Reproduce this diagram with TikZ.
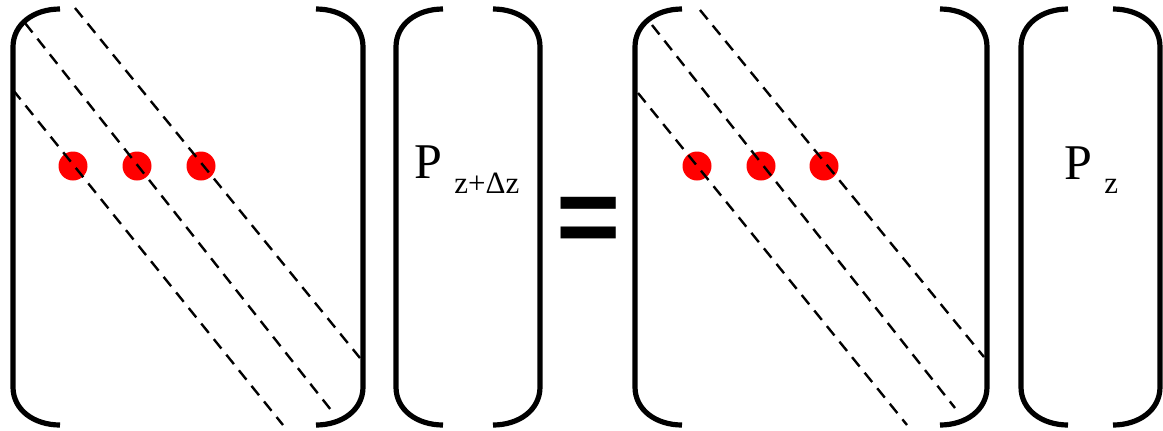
\documentclass[tikz,border=0pt]{standalone}
\usepackage{fontspec}
\setmainfont{Liberation Serif}
\newfontfamily\eqfont{Liberation Sans}
\usetikzlibrary{positioning}
\tikzset{
  brk/.style={line width=2.6pt, line cap=butt},
  diag/.style={line width=1.2pt, dash pattern=on 6pt off 4pt},
  dot/.style={circle, fill=red, inner sep=0pt, minimum size=14.5pt},
  lbl/.style={inner sep=0pt, anchor=base west, font=\fontsize{25pt}{30pt}\selectfont},
  sub/.style={inner sep=0pt, anchor=base west, font=\fontsize{15.5pt}{18pt}\selectfont},
  eqs/.style={inner sep=0pt, anchor=base, font=\eqfont\bfseries\fontsize{55pt}{60pt}\selectfont},
  lbr/.pic={\draw[brk] (47,9) .. controls (21,9) and (0,24) .. (0,47) -- (0,387)
    .. controls (0,410) and (21,425) .. (47,425);},
  rbr/.pic={\draw[brk] (-47,9) .. controls (-21,9) and (0,24) .. (0,47) -- (0,387)
    .. controls (0,410) and (-21,425) .. (-47,425);},
}

\begin{document}
\begin{tikzpicture}[x=0.5pt, y=-0.5pt]
  \useasboundingbox (0,0) rectangle (1163,430);

  % brackets
  \pic at (13,0) {lbr};   \pic at (363,0) {rbr};
  \pic at (396,0) {lbr};  \pic at (540,0) {rbr};
  \pic at (635,0) {lbr};  \pic at (987,0) {rbr};
  \pic at (1021,0) {lbr}; \pic at (1160,0) {rbr};

  % dots
  \node[dot] (a1) at (73,166) {};
  \node[dot] (a2) at (137,166) {};
  \node[dot] (a3) at (201,166) {};
  \node[dot] (b1) at (697,166) {};
  \node[dot] (b2) at (761,166) {};
  \node[dot] (b3) at (824,166) {};

  % diagonals
  \draw[diag] (75,8) -- (360,358);
  \draw[diag] (25,23) -- (331,410);
  \draw[diag] (13,90) -- (283,425);
  \draw[diag] (700,10) -- (984,357);
  \draw[diag] (652,25) -- (955,408);
  \draw[diag] (638,93) -- (907,425);

  % labels
  \node[lbl] (p1) at (414,178) {P};
  \node[sub] (s1) at (454,193) {z+Δz};
  \node[lbl] (p2) at (1064,179) {P};
  \node[sub] (s2) at (1104,193) {z};
  \node[eqs] (eq) at (589,254) {=};
\end{tikzpicture}
\end{document}
